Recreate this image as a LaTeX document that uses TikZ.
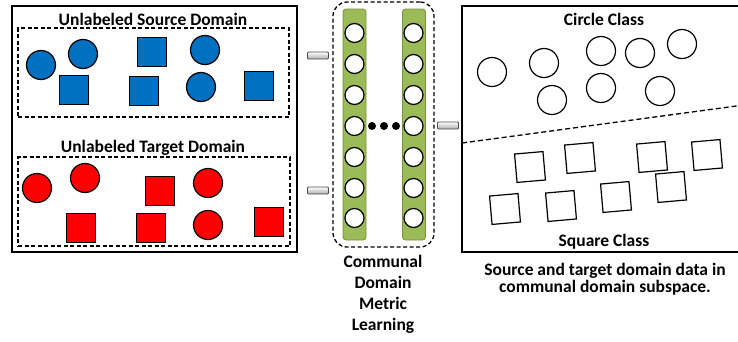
\documentclass[tikz,border=0pt]{standalone}
\usepackage{fontspec}
\setmainfont{Carlito}
\definecolor{srcblue}{RGB}{0,112,192}
\definecolor{tgtred}{RGB}{255,0,0}
\definecolor{barfill}{RGB}{155,187,89}
\definecolor{barline}{RGB}{118,146,60}
\definecolor{plugfill}{RGB}{215,215,215}
\begin{document}
\begin{tikzpicture}[x=1pt,y=-1pt,
  lbl/.style={font=\bfseries\fontsize{17.5}{20}\selectfont, inner sep=0pt},
  panel/.style={draw=black, line width=1.6pt},
  dashbox/.style={draw=black, line width=1.3pt, dash pattern=on 4pt off 2.5pt},
  circ/.style={circle, draw=black, line width=1.2pt, minimum size=29pt, inner sep=0pt},
  sq/.style={rectangle, draw=black, line width=1.2pt, minimum size=28.5pt, inner sep=0pt},
  bluec/.style={circ, fill=srcblue},
  blues/.style={sq, fill=srcblue},
  redc/.style={circ, fill=tgtred},
  reds/.style={sq, fill=tgtred},
  openc/.style={circ},
  opens/.style={sq, rotate=5},
  neuron/.style={circle, draw=black, line width=1.2pt, fill=white, minimum size=19pt, inner sep=0pt},
  bar/.style={rectangle, rounded corners=3pt, draw=barline, line width=0.8pt, fill=barfill, minimum width=23pt, minimum height=231pt, inner sep=0pt},
  plug/.style={rectangle, rounded corners=1pt, draw=black!70, line width=0.8pt, top color=white, bottom color=plugfill!80!black, minimum width=21pt, minimum height=7pt, inner sep=0pt},
  dot/.style={circle, fill=black, minimum size=8pt, inner sep=0pt}
]
\useasboundingbox (0,0) rectangle (738,341);

% ---------- left panel ----------
\node[panel, rectangle, minimum width=285pt, minimum height=246pt, inner sep=0pt] (leftpanel) at (154.5,129) {};
\node[dashbox, rectangle, minimum width=271pt, minimum height=89pt, inner sep=0pt] (srcbox) at (153.5,72.5) {};
\node[lbl] (srctitle) at (153,19) {Unlabeled Source Domain};
\node[bluec] (s1) at (41,65) {};
\node[bluec] (s2) at (83,54) {};
\node[blues] (s3) at (74,90) {};
\node[blues] (s4) at (152,52) {};
\node[blues] (s5) at (144,91) {};
\node[bluec] (s6) at (205,50) {};
\node[bluec] (s7) at (201,87) {};
\node[blues] (s8) at (259,86) {};

\node[dashbox, rectangle, minimum width=272pt, minimum height=89pt, inner sep=0pt] (tgtbox) at (154,201.5) {};
\node[lbl] (tgttitle) at (153,148) {Unlabeled Target Domain};
\node[redc] (t1) at (37,188) {};
\node[redc] (t2) at (85,178) {};
\node[reds] (t3) at (160,191) {};
\node[redc] (t4) at (208,183) {};
\node[reds] (t5) at (81,228) {};
\node[reds] (t6) at (151,228) {};
\node[redc] (t7) at (208,225) {};
\node[reds] (t8) at (269,222) {};

% ---------- middle network ----------
\node[plug] (p1) at (318,55.5) {};
\node[plug] (p2) at (318,190.5) {};
\node[plug] (p3) at (448,125.5) {};

\node[dashbox, rectangle, rounded corners=14pt, minimum width=101pt, minimum height=245pt, inner sep=0pt] (netbox) at (383.5,124.5) {};
\node[bar] (barL) at (354.5,124.5) {};
\node[bar] (barR) at (414,124.5) {};
\foreach \i/\yy in {1/33,2/64,3/95,4/126,5/157,6/188,7/218}{
  \node[neuron] (nl\i) at (354.5,\yy) {};
  \node[neuron] (nr\i) at (413.5,\yy) {};
}
\node[dot] (d1) at (372,126) {};
\node[dot] (d2) at (384,126) {};
\node[dot] (d3) at (396,126) {};
\node[lbl, align=center, font=\bfseries\fontsize{17.5}{21}\selectfont] (netlbl) at (383,294) {Communal\\Domain\\Metric\\Learning};

% ---------- right panel ----------
\coordinate (rtl) at (462,6);
\coordinate (rbl) at (462,252);
\coordinate (rtr) at (740,6);
\coordinate (rbr) at (740,252);
\draw[panel] (rtr) -- (rtl) -- (rbl) -- (rbr);
\node[lbl] (circtitle) at (604,19) {Circle Class};
\node[openc] (c1) at (492,72) {};
\node[openc] (c2) at (544,63) {};
\node[openc] (c3) at (552,100) {};
\node[openc] (c4) at (601,51) {};
\node[openc] (c5) at (601,88) {};
\node[openc] (c6) at (640,53) {};
\node[openc] (c7) at (660,91) {};
\node[openc] (c8) at (682,44) {};
\coordinate (sepL) at (462,143);
\coordinate (sepR) at (740,105.5);
\draw[line width=1.3pt, dash pattern=on 5pt off 3pt] (sepL) -- (sepR);
\node[opens] (q1) at (530,167) {};
\node[opens] (q2) at (580,158) {};
\node[opens] (q3) at (652,157) {};
\node[opens] (q4) at (707,155) {};
\node[opens] (q5) at (505,209) {};
\node[opens] (q6) at (561,206) {};
\node[opens] (q7) at (616,197) {};
\node[opens] (q8) at (671,187) {};
\node[lbl] (sqtitle) at (604,242) {Square Class};
\node[lbl, align=center, font=\bfseries\fontsize{17.5}{16.7}\selectfont] (caption) at (605,279) {Source and target domain data in\\communal domain subspace.};
\end{tikzpicture}
\end{document}
